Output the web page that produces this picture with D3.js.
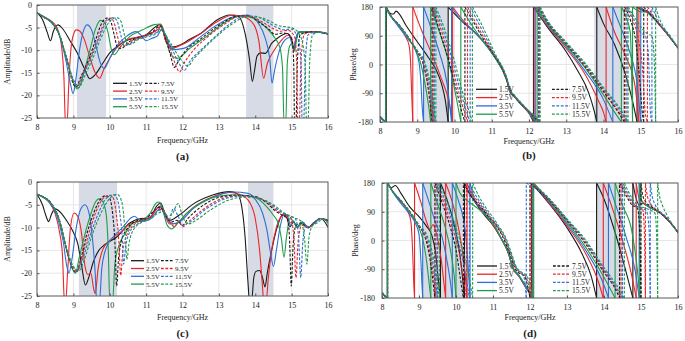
<!DOCTYPE html>
<html>
<head>
<meta charset="utf-8">
<script src="https://cdn.jsdelivr.net/npm/d3@7"></script>
<style>
  body { margin: 0; background: #fff; }
  svg { display: block; }
  text { font-family: "Liberation Serif", "Times New Roman", serif; fill: #222; }
</style>
</head>
<body>
<div id="chart"></div>
<script>
// ---- data (frequency in GHz, amplitude in dB / phase in deg) ----
const freqTicks = [8, 9, 10, 11, 12, 13, 14, 15, 16];
const ampTicks = [0, -5, -10, -15, -20, -25];
const phaseTicks = [180, 90, 0, -90, -180];
const voltages = ['1.5V', '2.5V', '3.5V', '5.5V', '7.5V', '9.5V', '11.5V', '15.5V'];
const seriesColors = ['#1a1a1a', '#e8262b', '#2c6fd6', '#1f9a4c'];

// shaded bands [from, to]
const bandsA = [[9.1, 9.9], [13.75, 14.5]];
const bandsB = [[9.15, 9.85], [13.75, 14.55]];
const bandsC = [[9.15, 10.2], [13.8, 14.5]];
const bandsD = [[9.1, 10.18], [13.8, 14.5]];

// (a) amplitude
const a15 = [[8,-1.7],[8.15,-3.2],[8.28,-6],[8.37,-7.9],[8.45,-5.8],[8.58,-4.4],[8.7,-5.2],[8.9,-7.8],[9.1,-10.5],[9.3,-14],[9.45,-16.3],[9.6,-15.4],[9.8,-13],[10,-10.6],[10.2,-9.2],[10.45,-7.9],[10.7,-7.3],[11,-6.6],[11.2,-5.2],[11.38,-4.3],[11.43,-4.8],[11.55,-8.2],[11.7,-9.3],[11.95,-8.8],[12.2,-7.6],[12.5,-6.3],[12.95,-3.3],[13.3,-2.2],[13.55,-2.6],[13.72,-6.3],[13.85,-12.5],[13.92,-16.9],[13.98,-14.5],[14.05,-11.3],[14.15,-10.6],[14.28,-10.7],[14.45,-8.5],[14.6,-7.4],[14.88,-6.3],[14.98,-7.5],[15.06,-9.8],[15.12,-7.5],[15.2,-6],[15.6,-5.9],[16,-6.4]];
const a25 = [[8,-1.7],[8.2,-2.6],[8.4,-3.6],[8.55,-5],[8.68,-9.5],[8.74,-16],[8.78,-25.5],[8.83,-26],[8.87,-18],[8.93,-10],[9,-6.6],[9.08,-5.5],[9.18,-5.8],[9.3,-7.6],[9.45,-11.5],[9.6,-15],[9.72,-16.2],[9.85,-14],[10,-11.8],[10.2,-9.4],[10.5,-7.6],[10.85,-7],[11.15,-6.2],[11.35,-5.2],[11.42,-4.5],[11.52,-7.5],[11.7,-9.6],[11.98,-8.8],[12.5,-6.3],[12.95,-3.7],[13.4,-2.2],[13.68,-2.6],[13.95,-4.2],[14.1,-8],[14.23,-16.2],[14.33,-13],[14.5,-10.3],[14.7,-8],[14.9,-6.7],[15,-7.2],[15.06,-10.3],[15.13,-7.2],[15.22,-6],[15.6,-5.9],[16,-6.4]];
const a35 = [[8,-1.7],[8.2,-2.7],[8.38,-3.8],[8.6,-6.4],[8.8,-12.5],[8.92,-17.5],[8.99,-19.6],[9.06,-17],[9.15,-11],[9.25,-6.5],[9.38,-4.4],[9.5,-5.5],[9.62,-9],[9.75,-13],[9.85,-14],[10,-11.8],[10.2,-9],[10.45,-7],[10.72,-5.9],[10.85,-6.6],[11,-7.9],[11.15,-7.4],[11.3,-6.9],[11.42,-5.5],[11.55,-6.8],[11.7,-9.9],[12.03,-9.6],[12.5,-7],[12.95,-4.4],[13.4,-2.6],[13.77,-2.2],[14.1,-4.2],[14.28,-7.5],[14.4,-12],[14.46,-17.3],[14.53,-14.5],[14.65,-10.5],[14.82,-7.7],[14.95,-7.2],[15.05,-9.6],[15.12,-7.2],[15.2,-6],[15.6,-5.9],[16,-6.4]];
const a55 = [[8,-1.7],[8.2,-2.8],[8.38,-3.6],[8.6,-6.3],[8.82,-12],[9,-17],[9.1,-18.6],[9.2,-17.5],[9.32,-14],[9.47,-9.5],[9.6,-5.5],[9.75,-3.4],[9.85,-3.8],[9.95,-6],[10.05,-10],[10.12,-11],[10.3,-9.2],[10.55,-7],[10.9,-5.5],[11.2,-4.4],[11.4,-4.2],[11.52,-6.5],[11.65,-10.5],[11.85,-11.8],[12.2,-9.6],[12.65,-7],[13.2,-3.7],[13.6,-2.4],[13.95,-2.9],[14.3,-5],[14.55,-7.4],[14.68,-9.5],[14.75,-14],[14.79,-26],[14.84,-26],[14.88,-13],[14.95,-9],[15.02,-8.5],[15.08,-10.2],[15.14,-7.5],[15.22,-6],[15.6,-5.9],[16,-6.4]];
const a75 = [[8,-1.7],[8.2,-2.8],[8.38,-3.6],[8.6,-6.3],[8.82,-12],[9,-17.5],[9.07,-18.2],[9.2,-16],[9.4,-12.5],[9.6,-8],[9.78,-4],[9.92,-2.9],[10.02,-3.5],[10.12,-6.5],[10.22,-9.5],[10.32,-9.6],[10.5,-8.3],[10.8,-7.2],[11,-6.8],[11.2,-5.8],[11.38,-4.6],[11.5,-6.5],[11.65,-10.5],[11.78,-13.8],[11.88,-12.5],[12.1,-10],[12.5,-7.5],[13,-4.5],[13.5,-2.5],[13.8,-2.4],[14.1,-3.8],[14.35,-5.2],[14.55,-6.5],[14.75,-6.2],[14.9,-6.4],[15.02,-8],[15.06,-14],[15.08,-26],[15.12,-26],[15.16,-12],[15.24,-6.5],[15.6,-5.9],[16,-6.4]];
const a95 = [[8,-1.7],[8.2,-2.8],[8.38,-3.6],[8.6,-6.3],[8.82,-12],[9,-17],[9.1,-18],[9.25,-15.5],[9.45,-12],[9.65,-8],[9.85,-4],[10,-2.9],[10.1,-3.5],[10.2,-6.5],[10.3,-9.2],[10.42,-9],[10.6,-8],[10.85,-7.2],[11.05,-6.6],[11.25,-5.8],[11.38,-4.8],[11.5,-6.2],[11.65,-9.5],[11.8,-13],[11.92,-14.8],[12.05,-12.8],[12.3,-10],[12.7,-7],[13.2,-4],[13.6,-2.4],[13.9,-2.6],[14.2,-3.8],[14.45,-5],[14.7,-5.8],[14.9,-5.6],[15.08,-7],[15.14,-13],[15.17,-26],[15.21,-26],[15.26,-12],[15.35,-6.5],[15.6,-5.9],[16,-6.4]];
const a115 = [[8,-1.7],[8.2,-2.8],[8.38,-3.6],[8.6,-6.3],[8.82,-12],[9,-16.5],[9.12,-17.8],[9.3,-15],[9.5,-11.5],[9.7,-7.5],[9.92,-3.6],[10.1,-2.8],[10.2,-3.5],[10.3,-6.5],[10.4,-9],[10.5,-8.8],[10.7,-7.8],[10.95,-7],[11.15,-6.5],[11.3,-6],[11.4,-5.2],[11.52,-6.5],[11.7,-9.5],[11.9,-12.8],[12.05,-14.5],[12.2,-12.5],[12.5,-10],[12.9,-7],[13.3,-4.2],[13.7,-2.5],[14,-2.5],[14.3,-3.6],[14.55,-4.8],[14.8,-5.5],[14.98,-5.3],[15.18,-7.5],[15.26,-13],[15.29,-26],[15.33,-26],[15.38,-12],[15.46,-6.5],[15.7,-6],[16,-6.4]];
const a155 = [[8,-1.7],[8.2,-2.8],[8.38,-3.6],[8.6,-6.3],[8.82,-12],[9,-16.8],[9.14,-18.3],[9.35,-15],[9.55,-11.5],[9.75,-7.5],[10,-3.6],[10.2,-2.8],[10.3,-3.5],[10.4,-6.5],[10.5,-8.8],[10.6,-8.6],[10.8,-7.6],[11.05,-7],[11.25,-6.5],[11.4,-5.5],[11.52,-6.5],[11.7,-8.8],[11.95,-12],[12.15,-13.5],[12.3,-12],[12.6,-9.5],[13,-6.5],[13.4,-4],[13.75,-2.6],[14.1,-2.7],[14.4,-3.6],[14.65,-4.6],[14.9,-4.9],[15.05,-5.2],[15.25,-7],[15.37,-13],[15.41,-26],[15.45,-26],[15.5,-12],[15.58,-6.5],[15.8,-6],[16,-6.4]];

// (b) phase
const b15 = [[8,-166],[8.08,-174],[8.17,-180],[8.17,180],[8.28,160],[8.36,158],[8.43,167],[8.52,158],[8.7,122],[8.9,88],[9.1,55],[9.3,22],[9.5,-15],[9.65,-60],[9.75,-110],[9.83,-180],[9.83,180],[9.95,165],[10.2,135],[10.5,105],[10.8,68],[11.05,28],[11.4,-48],[11.5,-88],[11.6,-100],[11.75,-120],[12,-152],[12.08,-170],[12.12,-180],[12.12,180],[12.5,116],[13,40],[13.3,-18],[13.6,-88],[13.75,-145],[13.82,-180],[13.82,180],[14,128],[14.3,62],[14.6,-35],[14.8,-125],[14.9,-180],[14.9,180],[15,172],[15.15,166],[15.3,150],[15.5,124],[15.75,90],[16,52]];
const b25 = [[8,-164],[8.08,-173],[8.15,-180],[8.15,180],[8.3,152],[8.5,122],[8.68,88],[8.78,60],[8.82,10],[8.85,-90],[8.88,-180],[8.88,180],[9.1,112],[9.4,30],[9.65,-45],[9.85,-115],[9.95,-180],[9.95,180],[10.2,142],[10.5,106],[10.8,68],[11.05,28],[11.4,-48],[11.5,-88],[11.6,-100],[11.75,-120],[12,-152],[12.1,-170],[12.14,-180],[12.14,180],[12.5,120],[13,50],[13.5,-30],[13.85,-110],[14,-150],[14.07,-180],[14.07,180],[14.3,100],[14.6,25],[14.85,-70],[14.95,-180],[14.95,180],[15.05,172],[15.18,166],[15.3,152],[15.5,125],[15.75,90],[16,52]];
const b35 = [[8,-165],[8.08,-174],[8.15,-180],[8.15,180],[8.3,150],[8.5,118],[8.75,80],[8.95,45],[9.05,5],[9.1,-60],[9.13,-130],[9.17,-180],[9.17,180],[9.4,105],[9.6,35],[9.8,-60],[9.92,-180],[9.92,180],[10.15,142],[10.5,105],[10.8,68],[11.05,28],[11.4,-48],[11.5,-88],[11.6,-100],[11.75,-120],[12,-152],[12.12,-170],[12.18,-180],[12.18,180],[12.5,124],[13,56],[13.5,-20],[14,-110],[14.25,-180],[14.25,180],[14.45,120],[14.7,40],[14.9,-60],[15,-180],[15,180],[15.1,170],[15.2,165],[15.32,150],[15.5,126],[15.75,90],[16,52]];
const b55 = [[8,-162],[8.08,-172],[8.15,-180],[8.15,180],[8.3,150],[8.5,125],[8.8,76],[9,34],[9.1,0],[9.2,-55],[9.3,-125],[9.36,-180],[9.36,180],[9.6,100],[9.85,5],[10.05,-105],[10.17,-180],[10.17,180],[10.35,145],[10.6,100],[10.85,62],[11.05,28],[11.4,-48],[11.5,-86],[11.6,-100],[11.75,-120],[12,-150],[12.15,-170],[12.22,-180],[12.22,180],[12.5,128],[13,60],[13.5,-10],[14,-95],[14.3,-150],[14.48,-180],[14.48,180],[14.6,150],[14.72,100],[14.78,-180],[14.78,180],[14.9,170],[15,165],[15.15,164],[15.3,150],[15.5,126],[15.75,90],[16,52]];
const b75 = [[8,-162],[8.08,-172],[8.15,-180],[8.15,180],[8.3,150],[8.5,125],[8.8,78],[9,40],[9.15,5],[9.3,-80],[9.4,-180],[9.4,180],[9.6,105],[9.85,10],[10.05,-80],[10.2,-150],[10.28,-180],[10.28,180],[10.5,135],[10.75,85],[11.05,32],[11.4,-45],[11.5,-84],[11.6,-98],[11.75,-118],[12,-148],[12.18,-170],[12.26,-180],[12.26,180],[12.5,132],[13,64],[13.5,-5],[14,-85],[14.4,-150],[14.56,-180],[14.56,180],[14.72,140],[14.88,60],[14.98,-60],[15.05,-160],[15.08,-180],[15.08,180],[15.15,170],[15.3,152],[15.5,126],[15.75,90],[16,52]];
const b95 = [[8,-162],[8.08,-172],[8.15,-180],[8.15,180],[8.3,150],[8.5,125],[8.8,78],[9,40],[9.15,8],[9.32,-80],[9.43,-180],[9.43,180],[9.65,105],[9.9,10],[10.1,-80],[10.27,-150],[10.35,-180],[10.35,180],[10.55,135],[10.8,82],[11.05,34],[11.4,-44],[11.5,-84],[11.6,-98],[11.75,-118],[12,-148],[12.2,-170],[12.27,-180],[12.27,180],[12.5,134],[13,66],[13.5,-2],[14,-80],[14.4,-145],[14.6,-180],[14.6,180],[14.78,140],[14.95,70],[15.05,-20],[15.12,-150],[15.18,-180],[15.18,180],[15.25,168],[15.35,150],[15.5,127],[15.75,90],[16,52]];
const b115 = [[8,-162],[8.08,-172],[8.15,-180],[8.15,180],[8.3,150],[8.5,125],[8.8,78],[9,42],[9.18,8],[9.35,-80],[9.46,-180],[9.46,180],[9.7,105],[9.95,10],[10.15,-80],[10.33,-150],[10.42,-180],[10.42,180],[10.62,135],[10.85,82],[11.05,36],[11.4,-42],[11.5,-82],[11.6,-96],[11.75,-116],[12,-146],[12.2,-168],[12.28,-180],[12.28,180],[12.5,136],[13,68],[13.5,2],[14,-76],[14.45,-145],[14.63,-180],[14.63,180],[14.8,145],[15,100],[15.12,90],[15.2,40],[15.26,-150],[15.3,-180],[15.3,180],[15.38,160],[15.5,130],[15.75,92],[16,52]];
const b155 = [[8,-162],[8.08,-172],[8.15,-180],[8.15,180],[8.3,150],[8.5,125],[8.8,80],[9,44],[9.2,8],[9.38,-80],[9.5,-180],[9.5,180],[9.75,105],[10,10],[10.2,-80],[10.4,-150],[10.48,-180],[10.48,180],[10.7,132],[10.9,82],[11.08,36],[11.4,-40],[11.5,-80],[11.6,-95],[11.75,-115],[12,-145],[12.22,-168],[12.3,-180],[12.3,180],[12.5,138],[13,70],[13.5,5],[14,-72],[14.5,-148],[14.66,-180],[14.66,180],[14.85,145],[15.05,110],[15.2,95],[15.3,90],[15.36,20],[15.4,-180],[15.4,180],[15.48,150],[15.6,120],[15.8,88],[16,52]];

// (c) amplitude
const c15 = [[8,-2.7],[8.15,-5],[8.25,-7.5],[8.32,-8.7],[8.4,-7],[8.5,-5.9],[8.6,-6.3],[8.8,-8.3],[9,-11],[9.12,-13.5],[9.23,-18.5],[9.33,-22.6],[9.42,-21],[9.55,-17.5],[9.7,-15],[9.85,-13.8],[10.2,-12],[10.55,-9],[10.85,-8],[11.1,-7.9],[11.28,-5.4],[11.4,-4.6],[11.5,-6.5],[11.65,-8.4],[11.9,-7.3],[12.3,-4.8],[12.85,-2.8],[13.3,-2.1],[13.5,-2.5],[13.62,-5],[13.72,-12],[13.8,-22],[13.84,-26],[13.9,-26],[13.96,-21],[14.02,-19.6],[14.12,-19.4],[14.2,-21],[14.27,-23],[14.33,-20],[14.45,-15],[14.6,-10],[14.75,-7.2],[14.85,-7.5],[14.95,-9.8],[15.05,-8.8],[15.15,-9.8],[15.3,-8.8],[15.45,-10],[15.6,-9],[15.8,-8],[16,-9.9]];
const c25 = [[8,-2.7],[8.2,-3.5],[8.35,-4.6],[8.5,-7],[8.62,-11],[8.7,-16],[8.75,-25.5],[8.79,-26],[8.84,-20],[8.92,-10],[9.02,-6.8],[9.12,-7.5],[9.22,-11],[9.32,-18.5],[9.4,-20.3],[9.48,-20],[9.56,-23.5],[9.6,-24.5],[9.68,-19],[9.8,-15],[10,-12.8],[10.3,-11],[10.6,-9],[10.9,-8.5],[11.15,-7.5],[11.3,-5.8],[11.4,-5.3],[11.5,-7],[11.65,-9.2],[11.85,-9],[12.1,-7],[12.4,-5],[12.9,-3],[13.3,-2.3],[13.6,-2.8],[13.85,-4.5],[14,-8],[14.12,-15],[14.2,-23],[14.23,-26],[14.3,-26],[14.36,-21],[14.45,-15],[14.58,-10],[14.72,-7.5],[14.82,-7],[14.95,-9],[15.05,-8.6],[15.15,-10],[15.3,-9],[15.45,-10],[15.6,-9.2],[15.8,-8],[16,-8.5]];
const c35 = [[8,-2.7],[8.2,-3.5],[8.35,-4.6],[8.55,-7.5],[8.72,-13],[8.82,-18.5],[8.88,-20],[8.96,-17],[9.08,-10],[9.2,-6],[9.32,-5],[9.42,-6.5],[9.52,-12],[9.6,-20],[9.64,-26],[9.72,-26],[9.78,-19],[9.9,-14.5],[10.1,-12],[10.35,-10],[10.6,-7.8],[10.68,-7.5],[10.85,-8.6],[11.1,-8.2],[11.3,-6.4],[11.43,-5.5],[11.55,-7.5],[11.7,-9.2],[11.95,-8.6],[12.3,-5.8],[12.8,-3.5],[13.4,-2.2],[13.8,-2.5],[14,-3.8],[14.2,-6.8],[14.32,-10.5],[14.42,-15.5],[14.5,-18.5],[14.58,-15],[14.68,-10],[14.8,-7],[14.88,-7.3],[14.97,-9.5],[15.05,-8.6],[15.15,-9.8],[15.3,-8.8],[15.45,-10],[15.6,-9],[15.8,-8],[16,-8.5]];
const c55 = [[8,-2.7],[8.2,-3.4],[8.35,-4.3],[8.6,-8],[8.85,-16],[9,-19.5],[9.06,-20],[9.15,-17],[9.3,-12],[9.48,-7],[9.6,-4.5],[9.7,-3.7],[9.8,-4.2],[9.9,-7],[9.96,-15],[10,-26],[10.08,-26],[10.14,-18],[10.25,-14],[10.45,-11],[10.65,-9],[10.9,-8.4],[11.1,-7],[11.28,-4.6],[11.35,-4.4],[11.45,-6],[11.58,-9.5],[11.7,-10.3],[11.85,-9.2],[12.1,-7],[12.5,-4.6],[13,-3.1],[13.5,-2.8],[14,-3.4],[14.3,-5.3],[14.5,-7.3],[14.63,-9],[14.72,-12.5],[14.79,-16.5],[14.86,-12],[14.95,-8],[15.05,-8.6],[15.15,-10],[15.3,-9],[15.45,-10],[15.6,-9.2],[15.8,-8],[16,-8.3]];
const c75 = [[8,-2.7],[8.2,-3.4],[8.35,-4.3],[8.6,-8],[8.85,-16],[9,-19.3],[9.08,-19.8],[9.2,-17],[9.35,-12],[9.55,-7],[9.75,-3.7],[9.9,-3],[10,-3.6],[10.08,-7],[10.14,-13],[10.19,-22.8],[10.24,-17],[10.32,-13],[10.5,-10],[10.75,-8.5],[11,-8],[11.2,-6.5],[11.38,-5.5],[11.5,-6.8],[11.68,-8.8],[11.85,-8.4],[12,-9.5],[12.15,-8],[12.5,-5.5],[13,-3.4],[13.5,-2.9],[14,-3.2],[14.3,-4.5],[14.55,-6.3],[14.75,-7.3],[14.88,-8],[14.94,-12],[14.99,-22.8],[15.04,-14],[15.12,-9.5],[15.25,-9],[15.45,-10],[15.6,-9.2],[15.8,-8],[16,-8.5]];
const c95 = [[8,-2.7],[8.2,-3.4],[8.35,-4.3],[8.6,-8],[8.85,-16],[9,-19],[9.1,-19.6],[9.22,-17],[9.4,-12],[9.6,-7],[9.82,-3.6],[10,-2.9],[10.1,-3.6],[10.18,-7],[10.25,-13],[10.3,-20.5],[10.36,-15],[10.45,-12],[10.65,-9.5],[10.9,-8.3],[11.1,-7.8],[11.3,-6],[11.45,-6],[11.6,-8],[11.78,-9.8],[11.9,-8.5],[12,-9.8],[12.2,-8.5],[12.6,-5.8],[13.1,-3.6],[13.6,-3],[14,-3.3],[14.35,-4.6],[14.6,-6.3],[14.8,-7.3],[14.97,-7.8],[15.06,-12],[15.12,-21],[15.18,-13],[15.28,-9.5],[15.45,-10],[15.6,-9.2],[15.8,-8],[16,-8.6]];
const c115 = [[8,-2.7],[8.2,-3.4],[8.35,-4.3],[8.6,-8],[8.85,-15.5],[9,-18.8],[9.12,-19.3],[9.25,-17],[9.45,-12],[9.68,-7],[9.9,-3.6],[10.1,-2.8],[10.2,-3.6],[10.28,-7],[10.34,-12],[10.38,-18],[10.44,-14],[10.55,-11],[10.75,-9.3],[11,-8.3],[11.2,-7.6],[11.35,-6.2],[11.5,-6.6],[11.62,-8.5],[11.75,-5.8],[11.88,-7.5],[12,-9.5],[12.2,-8.8],[12.6,-6.2],[13.1,-3.9],[13.6,-3.1],[14,-3.4],[14.4,-4.7],[14.7,-6.5],[14.95,-7.5],[15.1,-8],[15.19,-12],[15.25,-21],[15.31,-13],[15.4,-9.5],[15.5,-10],[15.6,-9.3],[15.8,-8],[16,-8.8]];
const c155 = [[8,-2.7],[8.2,-3.4],[8.35,-4.3],[8.6,-8],[8.85,-15.5],[9,-18.5],[9.15,-19.5],[9.3,-17],[9.5,-12],[9.75,-7],[10,-3.6],[10.2,-2.7],[10.3,-3.6],[10.38,-7],[10.43,-12],[10.47,-17],[10.53,-13.5],[10.65,-10.5],[10.85,-9],[11.1,-8.2],[11.3,-7],[11.45,-6.5],[11.6,-7.5],[11.72,-7],[11.88,-4.7],[12,-7.5],[12.15,-9.2],[12.35,-8.5],[12.7,-6.5],[13.2,-4.2],[13.7,-3.3],[14.1,-3.6],[14.5,-5],[14.8,-6.8],[15.05,-7.8],[15.25,-8.5],[15.35,-12],[15.42,-18],[15.48,-12],[15.58,-9.5],[15.7,-9],[15.85,-8.2],[16,-9]];

// (d) phase
const d15 = [[8,-165],[8.08,-175],[8.14,-180],[8.14,180],[8.25,165],[8.36,172],[8.5,150],[8.75,105],[9,75],[9.2,45],[9.35,15],[9.45,-40],[9.52,-120],[9.58,-180],[9.58,180],[9.75,130],[9.95,50],[10.1,-40],[10.18,-120],[10.23,-180],[10.23,180],[10.4,140],[10.6,106],[10.8,75],[11,48],[11.2,10],[11.4,-35],[11.55,-90],[11.7,-112],[11.85,-140],[12,-168],[12.04,-180],[12.04,180],[12.5,118],[13,40],[13.4,-40],[13.65,-110],[13.8,-180],[13.8,180],[14,130],[14.3,25],[14.6,-100],[14.78,-180],[14.78,180],[14.85,140],[14.95,112],[15.05,116],[15.2,106],[15.5,88],[15.8,55],[16,25]];
const d25 = [[8,-164],[8.08,-174],[8.15,-180],[8.15,180],[8.3,152],[8.5,122],[8.7,90],[8.78,60],[8.83,-40],[8.86,-140],[8.88,-180],[8.88,180],[9.05,120],[9.2,60],[9.3,35],[9.38,50],[9.45,30],[9.6,-60],[9.68,-140],[9.72,-180],[9.72,180],[9.9,120],[10.1,20],[10.25,-110],[10.3,-180],[10.3,180],[10.45,135],[10.65,102],[10.85,72],[11,48],[11.2,10],[11.4,-35],[11.55,-90],[11.7,-112],[11.85,-140],[12,-168],[12.06,-180],[12.06,180],[12.5,120],[13,46],[13.5,-40],[13.85,-130],[13.98,-180],[13.98,180],[14.2,110],[14.5,0],[14.75,-110],[14.87,-180],[14.87,180],[14.93,140],[15,114],[15.08,117],[15.2,106],[15.5,88],[15.8,55],[16,25]];
const d35 = [[8,-165],[8.08,-175],[8.15,-180],[8.15,180],[8.3,150],[8.5,118],[8.75,82],[8.9,55],[9,20],[9.05,-60],[9.08,-140],[9.1,-180],[9.1,180],[9.3,110],[9.5,40],[9.6,20],[9.75,-60],[9.86,-140],[9.9,-180],[9.9,180],[10.05,130],[10.25,30],[10.35,-120],[10.38,-180],[10.38,180],[10.5,130],[10.7,98],[10.9,68],[11.05,45],[11.2,10],[11.4,-33],[11.55,-88],[11.7,-110],[11.85,-138],[12,-166],[12.08,-180],[12.08,180],[12.5,124],[13,52],[13.5,-30],[14,-140],[14.12,-180],[14.12,180],[14.35,100],[14.6,10],[14.85,-100],[14.95,-180],[14.95,180],[15,125],[15.08,116],[15.2,106],[15.5,88],[15.8,55],[16,25]];
const d55 = [[8,-162],[8.07,-172],[8.15,-180],[8.15,180],[8.3,152],[8.5,126],[8.8,80],[9,40],[9.1,5],[9.2,-60],[9.28,-140],[9.32,-180],[9.32,180],[9.5,115],[9.7,45],[9.85,-30],[9.95,-110],[10,-180],[10,180],[10.1,150],[10.3,125],[10.5,108],[10.7,90],[10.9,65],[11.05,45],[11.2,12],[11.4,-32],[11.55,-86],[11.7,-108],[11.85,-135],[12,-162],[12.1,-180],[12.1,180],[12.5,128],[13,58],[13.5,-20],[14,-115],[14.3,-180],[14.3,180],[14.5,110],[14.75,30],[14.9,-90],[14.97,-180],[14.97,180],[15.02,125],[15.1,115],[15.2,106],[15.5,88],[15.8,55],[16,25]];
const d75 = [[8,-162],[8.07,-172],[8.15,-180],[8.15,180],[8.3,152],[8.5,126],[8.8,82],[9,45],[9.15,15],[9.3,-60],[9.4,-150],[9.43,-180],[9.43,180],[9.65,110],[9.85,40],[10,-30],[10.12,-120],[10.2,-180],[10.2,180],[10.4,140],[10.65,108],[10.9,72],[11.1,45],[11.25,15],[11.45,-40],[11.6,-88],[11.75,-105],[11.85,-112],[11.95,-150],[12,-180],[12,180],[12.5,128],[13,62],[13.5,-10],[14,-100],[14.3,-150],[14.42,-180],[14.42,180],[14.6,140],[14.75,112],[14.9,102],[14.96,40],[15,-180],[15,180],[15.05,140],[15.15,118],[15.3,104],[15.5,88],[15.8,55],[16,25]];
const d95 = [[8,-162],[8.07,-172],[8.15,-180],[8.15,180],[8.3,152],[8.5,126],[8.8,82],[9,46],[9.17,15],[9.33,-60],[9.43,-150],[9.46,-180],[9.46,180],[9.7,110],[9.9,40],[10.07,-30],[10.2,-120],[10.28,-180],[10.28,180],[10.48,140],[10.7,106],[10.92,72],[11.1,46],[11.27,15],[11.47,-40],[11.62,-86],[11.77,-103],[11.88,-112],[11.98,-150],[12.03,-180],[12.03,180],[12.5,130],[13,64],[13.5,-6],[14,-95],[14.33,-150],[14.46,-180],[14.46,180],[14.65,138],[14.8,112],[14.95,104],[15.05,95],[15.09,30],[15.12,-180],[15.12,180],[15.17,140],[15.26,115],[15.4,98],[15.55,85],[15.8,55],[16,25]];
const d115 = [[8,-162],[8.07,-172],[8.15,-180],[8.15,180],[8.3,152],[8.5,126],[8.8,82],[9,47],[9.2,15],[9.36,-60],[9.47,-150],[9.5,-180],[9.5,180],[9.75,110],[9.95,40],[10.12,-30],[10.28,-120],[10.36,-180],[10.36,180],[10.55,138],[10.75,104],[10.95,72],[11.12,46],[11.3,15],[11.48,-40],[11.62,-84],[11.75,-100],[11.82,-108],[11.88,-150],[11.9,-180],[11.9,180],[12.5,132],[13,66],[13.5,-2],[14,-90],[14.35,-150],[14.5,-180],[14.5,180],[14.7,135],[14.85,110],[15,103],[15.15,92],[15.22,30],[15.25,-180],[15.25,180],[15.3,140],[15.38,112],[15.5,92],[15.65,78],[15.85,48],[16,25]];
const d155 = [[8,-162],[8.07,-172],[8.15,-180],[8.15,180],[8.3,152],[8.5,126],[8.8,83],[9,48],[9.22,15],[9.4,-60],[9.52,-150],[9.55,-180],[9.55,180],[9.8,110],[10,40],[10.18,-30],[10.36,-120],[10.45,-180],[10.45,180],[10.62,138],[10.8,104],[11,72],[11.15,46],[11.32,15],[11.5,-40],[11.64,-84],[11.78,-100],[11.92,-112],[12.02,-150],[12.08,-180],[12.08,180],[12.5,134],[13,68],[13.5,2],[14,-85],[14.4,-150],[14.55,-180],[14.55,180],[14.75,134],[14.9,112],[15.05,104],[15.25,95],[15.38,85],[15.42,20],[15.45,-180],[15.45,180],[15.5,140],[15.58,110],[15.7,80],[15.85,50],[16,25]];

// ---- layout ----
const panels = [
  {id: 'a', kind: 'amp', series: [a15, a25, a35, a55, a75, a95, a115, a155], bands: bandsA,
    x0: 37, x1: 328, y0: 5, y1: 118, yTitle: 'Amplitude/dB', yTitleX: 7, tickPad: 5,
    xTitleY: 143, label: '(a)', labelY: 160,
    legend: {x1: 113, x2: 127, t1: 129, x3: 145, x4: 159, t2: 161, y: 83.3, dy: 7.8, fs: 7}},
  {id: 'b', kind: 'phase', series: [b15, b25, b35, b55, b75, b95, b115, b155], bands: bandsB,
    x0: 380, x1: 678, y0: 7, y1: 122, yTitle: 'Phase/deg', yTitleX: 353, tickPad: 7,
    xTitleY: 144, label: '(b)', labelY: 159,
    legend: {x1: 476, x2: 497, t1: 499, x3: 552, x4: 570, t2: 572, y: 89.3, dy: 8.3, fs: 7.5}},
  {id: 'c', kind: 'amp', series: [c15, c25, c35, c55, c75, c95, c115, c155], bands: bandsC,
    x0: 37, x1: 328, y0: 182, y1: 296, yTitle: 'Amplitude/dB', yTitleX: 7, tickPad: 5,
    xTitleY: 320, label: '(c)', labelY: 337,
    legend: {x1: 131, x2: 144, t1: 146, x3: 161, x4: 173, t2: 175, y: 260.7, dy: 7.8, fs: 7}},
  {id: 'd', kind: 'phase', series: [d15, d25, d35, d55, d75, d95, d115, d155], bands: bandsD,
    x0: 382, x1: 678, y0: 183, y1: 298, yTitle: 'Phase/deg', yTitleX: 355, tickPad: 7,
    xTitleY: 320, label: '(d)', labelY: 337,
    legend: {x1: 477, x2: 497, t1: 499, x3: 553, x4: 570, t2: 572, y: 266, dy: 8.2, fs: 7.5}}
];

const svg = d3.select('#chart').append('svg')
    .attr('width', 685)
    .attr('height', 341);

const dashOf = (i) => i >= 4 ? '2.8,1.6' : null;
const colorOf = (i) => seriesColors[i % 4];

// split a phase trace at its wrap-around points
const splitAtJumps = (pts) => {
  const segs = [[pts[0]]];
  const jumps = [];
  for (let i = 1; i < pts.length; i++) {
    if (pts[i][0] === pts[i - 1][0]) {
      jumps.push([pts[i - 1], pts[i]]);
      segs.push([pts[i]]);
    } else {
      segs[segs.length - 1].push(pts[i]);
    }
  }
  return {segs, jumps};
};

panels.forEach((p) => {
  const x = d3.scaleLinear().domain([8, 16]).range([p.x0, p.x1]);
  const yTicks = p.kind === 'amp' ? ampTicks : phaseTicks;
  const y = d3.scaleLinear()
      .domain(p.kind === 'amp' ? [-25, 0] : [-180, 180])
      .range([p.y1, p.y0]);
  const g = svg.append('g');

  g.append('clipPath').attr('id', 'clip-' + p.id)
      .append('rect')
      .attr('x', p.x0).attr('y', p.y0)
      .attr('width', p.x1 - p.x0).attr('height', p.y1 - p.y0);

  // grid
  g.append('g').selectAll('line').data(freqTicks).join('line')
      .attr('x1', (d) => x(d)).attr('x2', (d) => x(d))
      .attr('y1', p.y0).attr('y2', p.y1)
      .attr('stroke', '#dcdcdc').attr('stroke-width', 0.7);
  g.append('g').selectAll('line').data(yTicks).join('line')
      .attr('x1', p.x0).attr('x2', p.x1)
      .attr('y1', (d) => y(d)).attr('y2', (d) => y(d))
      .attr('stroke', '#dcdcdc').attr('stroke-width', 0.7);

  // shaded bands
  g.append('g').selectAll('rect').data(p.bands).join('rect')
      .attr('x', (d) => x(d[0])).attr('width', (d) => x(d[1]) - x(d[0]))
      .attr('y', p.y0).attr('height', p.y1 - p.y0)
      .attr('fill', '#d7dbe5');

  // curves
  const plot = g.append('g').attr('clip-path', `url(#clip-${p.id})`);
  const line = d3.line()
      .x((d) => x(d[0]))
      .y((d) => y(d[1]))
      .curve(d3.curveMonotoneX);

  p.series.forEach((pts, i) => {
    const style = (sel) => sel
        .attr('fill', 'none')
        .attr('stroke', colorOf(i))
        .attr('stroke-width', 1.1)
        .attr('stroke-dasharray', dashOf(i));
    if (p.kind === 'amp') {
      plot.append('path').attr('d', line(pts)).call(style);
    } else {
      const {segs, jumps} = splitAtJumps(pts);
      segs.forEach((s) => plot.append('path').attr('d', line(s)).call(style));
      jumps.forEach((j) => plot.append('line')
          .attr('x1', x(j[0][0])).attr('x2', x(j[1][0]))
          .attr('y1', y(j[0][1])).attr('y2', y(j[1][1]))
          .call(style));
    }
  });

  // frame
  g.append('rect')
      .attr('x', p.x0).attr('y', p.y0)
      .attr('width', p.x1 - p.x0).attr('height', p.y1 - p.y0)
      .attr('fill', 'none').attr('stroke', '#555').attr('stroke-width', 0.9);

  // axes
  const xAxis = g.append('g')
      .attr('transform', `translate(0,${p.y1})`)
      .call(d3.axisBottom(x).tickValues(freqTicks).tickSize(-2.5).tickPadding(6.5)
          .tickFormat(d3.format('d')));
  const yAxis = g.append('g')
      .attr('transform', `translate(${p.x0},0)`)
      .call(d3.axisLeft(y).tickValues(yTicks).tickSize(-2.5).tickPadding(p.tickPad)
          .tickFormat((d) => String(d)));
  [xAxis, yAxis].forEach((ax) => {
    ax.select('.domain').remove();
    ax.selectAll('line').attr('stroke', '#555');
    ax.selectAll('text')
        .attr('fill', '#222')
        .style('font-family', '"Liberation Serif", serif')
        .style('font-size', '8px');
  });

  // titles
  g.append('text')
      .attr('x', (p.x0 + p.x1) / 2).attr('y', p.xTitleY)
      .attr('text-anchor', 'middle')
      .style('font-size', '8px')
      .text('Frequency/GHz');
  g.append('text')
      .attr('transform', `translate(${p.yTitleX},${(p.y0 + p.y1) / 2}) rotate(-90)`)
      .attr('text-anchor', 'middle')
      .attr('dy', '0.35em')
      .style('font-size', '8px')
      .text(p.yTitle);
  g.append('text')
      .attr('x', (p.x0 + p.x1) / 2).attr('y', p.labelY)
      .attr('text-anchor', 'middle')
      .style('font-size', '11px')
      .style('font-weight', 'bold')
      .text(p.label);

  // legend
  const lg = p.legend;
  const legend = g.append('g');
  voltages.forEach((v, i) => {
    const row = i % 4;
    const second = i >= 4;
    const ly = lg.y + row * lg.dy;
    legend.append('line')
        .attr('x1', second ? lg.x3 : lg.x1).attr('x2', second ? lg.x4 : lg.x2)
        .attr('y1', ly).attr('y2', ly)
        .attr('stroke', colorOf(i))
        .attr('stroke-width', 1.3)
        .attr('stroke-dasharray', dashOf(i));
    legend.append('text')
        .attr('x', second ? lg.t2 : lg.t1).attr('y', ly)
        .attr('dy', '0.35em')
        .style('font-size', lg.fs + 'px')
        .text(v);
  });
});
</script>
</body>
</html>
